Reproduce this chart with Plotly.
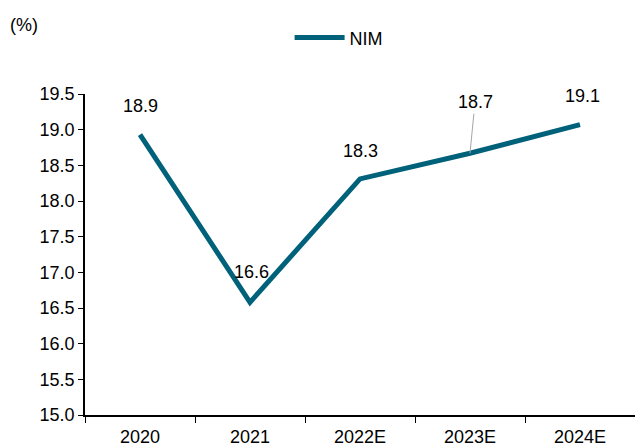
import plotly.graph_objects as go

# Dados
anos = ['2020', '2021', '2022E', '2023E', '2024E']
nim = [18.93, 16.58, 18.31, 18.67, 19.07]
rotulos = ['18.9', '16.6', '18.3', '18.7', '19.1']

cor_linha = '#00627A'
fonte = 'Liberation Sans, Arial, sans-serif'

fig = go.Figure()
fig.add_trace(go.Scatter(x=anos, y=nim, mode='lines', name='NIM',
                         line=dict(color=cor_linha, width=5)))

# Rótulos dos pontos
deslocamentos = [(0, 29), (1, 30), (0, 28), (None, None), (2, 29)]
for i, (valor, txt, (dx, dy)) in enumerate(zip(nim, rotulos, deslocamentos)):
    if dx is None:
        # rótulo com linha de chamada
        fig.add_annotation(x=i, y=valor, text=txt, showarrow=True,
                           arrowhead=0, arrowwidth=1, arrowcolor='#a6a6a6',
                           ax=5, ay=-51, font=dict(size=18, color='black'))
    else:
        fig.add_annotation(x=i, y=valor, text=txt, showarrow=False,
                           xshift=dx, yshift=dy, font=dict(size=18, color='black'))

fig.add_annotation(text='(%)', xref='paper', yref='paper', x=-0.14, y=1.215,
                   xanchor='left', yanchor='middle', showarrow=False,
                   font=dict(size=18, color='black'))

fig.update_layout(
    width=635, height=448,
    margin=dict(l=85, r=0, t=94, b=33),
    plot_bgcolor='white', paper_bgcolor='white',
    font=dict(family=fonte, size=18, color='black'),
    showlegend=True,
    legend=dict(orientation='h', x=0.372, y=1.175, xanchor='left', yanchor='middle',
                font=dict(size=18), itemwidth=50),
)
fig.update_xaxes(type='category', range=[-0.5, 4.5], showline=True, linecolor='black',
                 linewidth=1.5, ticks='outside', tickson='boundaries', ticklen=6,
                 tickcolor='black', showgrid=False, tickfont=dict(size=18),
                 ticklabelstandoff=5)
fig.update_yaxes(range=[15, 19.5], dtick=0.5, tickformat='.1f', showline=True,
                 linecolor='black', linewidth=1.5, ticks='outside', ticklen=5,
                 tickcolor='black', showgrid=False, zeroline=False, tickfont=dict(size=18))

fig.write_html('out.html', config={'displayModeBar': False},
               post_script="document.body.style.margin='0';")
